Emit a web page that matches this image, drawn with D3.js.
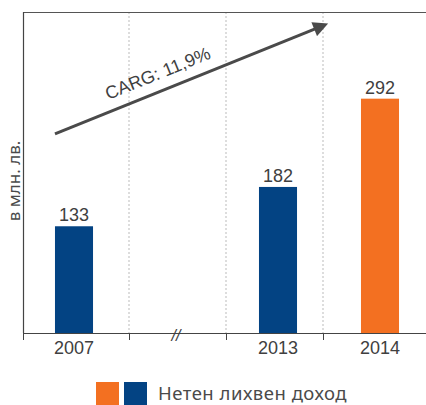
<!DOCTYPE html>
<html lang="bg">
<head>
<meta charset="utf-8">
<script src="https://cdn.jsdelivr.net/npm/d3@7/dist/d3.min.js"></script>
<style>
body{margin:0;background:#fff;}
svg{display:block;}
</style>
</head>
<body>
<svg id="c" width="426" height="405"></svg>
<script>
const categories = ["2007", "//", "2013", "2014"];
const values = [133, null, 182, 292];
const barColors = ["#034383", null, "#034383", "#F37021"];
const yTitle = "в млн. лв.";
const legendLabel = "Нетен лихвен доход";
const legendColors = ["#F37021", "#034383"];
const cagrLabel = "CARG: 11,9%";
const arrowValues = [248, 380];
const gridSlots = [1, 2, 3];

const svg = d3.select("#c");
const L = 23, T = 12, B = 333, R = 426;
const font = "'Liberation Sans', Arial, sans-serif";

const x = d3.scaleBand().domain(categories).range([L, 431]).padding(0);
const y = d3.scaleLinear().domain([0, 400]).range([B, T]);
const grid = d3.scaleLinear().domain([0, 4]).range([32, 420]);
const barW = x.bandwidth() * 0.373;

svg.append("g").selectAll("line").data(gridSlots).join("line")
  .attr("x1", d => grid(d)).attr("x2", d => grid(d))
  .attr("y1", T).attr("y2", B)
  .attr("stroke", "#bbb").attr("stroke-width", 1).attr("stroke-dasharray", "2,2");

svg.append("line").attr("x1", L).attr("x2", R).attr("y1", T + 0.5).attr("y2", T + 0.5)
  .attr("stroke", "#555").attr("stroke-width", 1);
svg.append("line").attr("x1", L + 0.5).attr("x2", L + 0.5).attr("y1", T).attr("y2", B)
  .attr("stroke", "#444").attr("stroke-width", 1.2);
svg.append("line").attr("x1", L).attr("x2", R).attr("y1", B + 0.5).attr("y2", B + 0.5)
  .attr("stroke", "#444").attr("stroke-width", 1.2);
svg.append("g").selectAll("line").data([L].concat(gridSlots.map(d => grid(d)))).join("line")
  .attr("x1", d => d + 0.5).attr("x2", d => d + 0.5)
  .attr("y1", B).attr("y2", B + 7)
  .attr("stroke", "#444").attr("stroke-width", 1);

const data = categories.map((c, i) => ({c, v: values[i], col: barColors[i]})).filter(d => d.v != null);
svg.append("g").selectAll("rect").data(data).join("rect")
  .attr("x", d => x(d.c) + (x.bandwidth() - barW) / 2)
  .attr("width", barW)
  .attr("y", d => y(d.v))
  .attr("height", d => y(0) - y(d.v))
  .attr("fill", d => d.col);

svg.append("g").selectAll("text").data(data).join("text")
  .attr("x", d => x(d.c) + x.bandwidth() / 2)
  .attr("y", d => y(d.v) - 5)
  .attr("text-anchor", "middle")
  .attr("font-family", font).attr("font-size", 18).attr("fill", "#404040")
  .text(d => d.v);

svg.append("g").selectAll("text").data(categories).join("text")
  .attr("x", d => x(d) + x.bandwidth() / 2)
  .attr("y", d => d === "//" ? 341 : 354)
  .attr("text-anchor", "middle")
  .attr("font-family", font).attr("font-size", d => d === "//" ? 16 : 18)
  .attr("font-style", d => d === "//" ? "italic" : "normal")
  .attr("fill", "#404040")
  .text(d => d);

svg.append("text")
  .attr("transform", "translate(20,181) rotate(-90)")
  .attr("text-anchor", "middle")
  .attr("font-family", "'Noto Sans', sans-serif").attr("font-size", 17).attr("fill", "#4a4a4a")
  .text(yTitle);

const defs = svg.append("defs");
defs.append("marker").attr("id", "ah").attr("viewBox", "0 0 10 10")
  .attr("refX", 2).attr("refY", 5).attr("markerWidth", 6).attr("markerHeight", 5)
  .attr("markerUnits", "strokeWidth").attr("orient", "auto")
  .append("path").attr("d", "M0,0 L10,5 L0,10 z").attr("fill", "#4a4a4a");
const ax1 = x("2007") + (x.bandwidth() - barW) / 2, ay1 = y(arrowValues[0]);
const ax2 = x("2014") - 12, ay2 = y(arrowValues[1]);
svg.append("line").attr("x1", ax1).attr("y1", ay1).attr("x2", ax2).attr("y2", ay2)
  .attr("stroke", "#4a4a4a").attr("stroke-width", 3).attr("marker-end", "url(#ah)");
const ang = Math.atan2(ay2 - ay1, ax2 - ax1) * 180 / Math.PI;
svg.append("text")
  .attr("transform", `translate(160,79) rotate(${ang})`)
  .attr("text-anchor", "middle")
  .attr("font-family", font).attr("font-size", 18).attr("fill", "#404040")
  .text(cagrLabel);

svg.append("g").selectAll("rect").data(legendColors).join("rect")
  .attr("x", (d, i) => 96 + i * 28).attr("y", 382).attr("width", 23).attr("height", 23)
  .attr("fill", d => d);
svg.append("text").attr("x", 158).attr("y", 400)
  .attr("font-family", "'Noto Sans', sans-serif").attr("font-size", 18.5)
  .attr("letter-spacing", 0.5).attr("fill", "#4a4a4a")
  .text(legendLabel);
</script>
</body>
</html>
